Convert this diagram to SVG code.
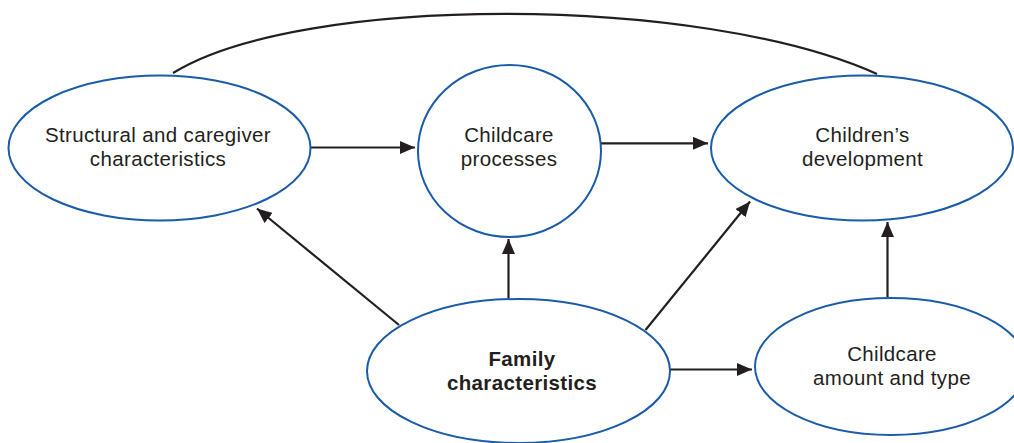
<svg xmlns="http://www.w3.org/2000/svg" width="1014" height="443" viewBox="0 0 1014 443">
<style>
.node{fill:#fff;stroke:#1a5ca8;stroke-width:2}
.lbl{font-family:"Liberation Sans",Arial,sans-serif;font-size:20.5px;letter-spacing:0.35px;fill:#231f20;text-anchor:middle}
.bold{font-weight:bold}
.edge{fill:none;stroke:#231f20;stroke-width:2.2}
</style>
<defs>
<marker id="arr" markerUnits="userSpaceOnUse" markerWidth="16" markerHeight="14" refX="15" refY="6.5" orient="auto">
<path d="M0,0 L15,6.5 L0,13 z" fill="#231f20"/>
</marker>
</defs>
<rect width="1014" height="443" fill="#fff"/>
<g id="connectors">
<path class="edge" d="M173,73 C300,-6 700,-6 877,74"/>
<line class="edge" x1="311" y1="147.5" x2="415" y2="147.5" marker-end="url(#arr)"/>
<line class="edge" x1="601" y1="143.3" x2="708" y2="143.3" marker-end="url(#arr)"/>
<line class="edge" x1="399" y1="325" x2="257" y2="208.5" marker-end="url(#arr)"/>
<line class="edge" x1="508.5" y1="299" x2="508.5" y2="239" marker-end="url(#arr)"/>
<line class="edge" x1="645.5" y1="330" x2="750" y2="201.5" marker-end="url(#arr)"/>
<line class="edge" x1="670" y1="369.5" x2="752" y2="369.5" marker-end="url(#arr)"/>
<line class="edge" x1="887.5" y1="297" x2="887.5" y2="222" marker-end="url(#arr)"/>
</g>
<g id="structural">
<ellipse class="node" cx="159.5" cy="148" rx="151" ry="72.5"/>
<text class="lbl" x="158" y="141.5">Structural and caregiver</text>
<text class="lbl" x="158" y="166">characteristics</text>
</g>
<g id="processes">
<ellipse class="node" cx="509.5" cy="151" rx="91.5" ry="86"/>
<text class="lbl" x="509" y="141.5">Childcare</text>
<text class="lbl" x="509" y="166">processes</text>
</g>
<g id="development">
<ellipse class="node" cx="862" cy="148" rx="151" ry="72.5"/>
<text class="lbl" x="862.5" y="141.5">Children’s</text>
<text class="lbl" x="862.5" y="165.5">development</text>
</g>
<g id="family">
<ellipse class="node" cx="518.5" cy="371" rx="151.5" ry="72"/>
<text class="lbl bold" x="522" y="366">Family</text>
<text class="lbl bold" x="522" y="389.5">characteristics</text>
</g>
<g id="amount">
<ellipse class="node" cx="891" cy="366.5" rx="136" ry="68.5"/>
<text class="lbl" x="892" y="360.5">Childcare</text>
<text class="lbl" x="892" y="385">amount and type</text>
</g>
</svg>
